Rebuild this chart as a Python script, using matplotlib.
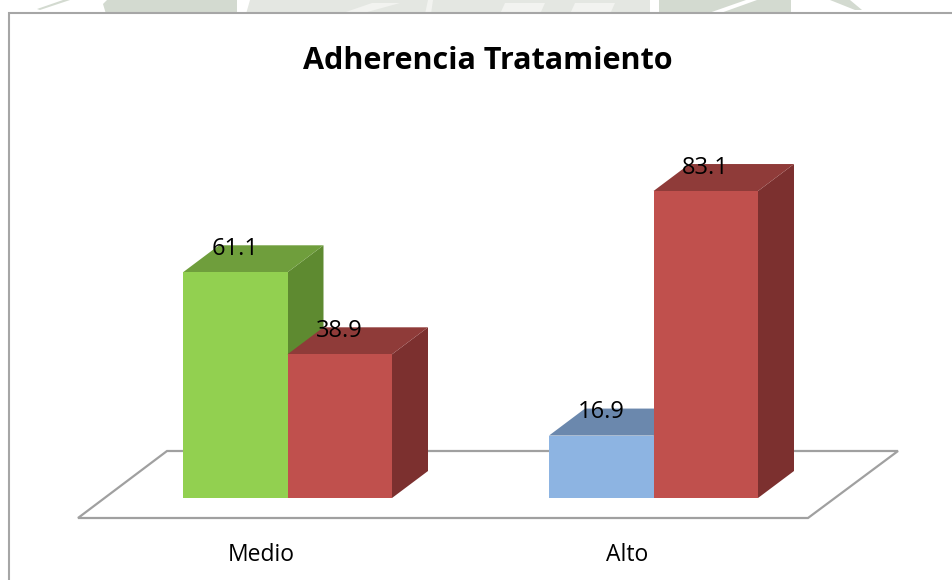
import matplotlib

matplotlib.use('Agg')
import matplotlib.pyplot as plt
from matplotlib.patches import Polygon

WIDTH, HEIGHT = 953, 580

title = 'Adherencia Tratamiento'
categories = ['Medio', 'Alto']
first_values = [61.1, 16.9]
second_values = [38.9, 83.1]
first_fronts = ['#92d050', '#8db4e2']
first_tops = ['#6f9e3c', '#6b88ad']
first_sides = ['#5e8a30', '#5f7a9c']
second_front = '#c0504d'
second_top = '#8f3b39'
second_side = '#7c302f'

# pixel scales
group_step = 366.0
first_group_px = 287.5
base_px = 498.0
unit_px = 3.694
bar_w = 104.5 / group_step
depth_x = 36.0 / group_step
depth_y = 27.0 / unit_px


def px_x(px):
    return (px - first_group_px) / group_step


def px_y(px):
    return (base_px - px) / unit_px


def px_poly(pts, **kwargs):
    return Polygon([(px_x(x), px_y(y)) for x, y in pts], **kwargs)


def draw_bar(ax, left, value, front, top, side, z):
    right = left + bar_w
    ax.add_patch(Polygon([(right, 0), (right + depth_x, depth_y), (right + depth_x, value + depth_y), (right, value)],
                         facecolor=side, edgecolor='none', zorder=z))
    ax.add_patch(Polygon([(left, value), (right, value), (right + depth_x, value + depth_y), (left + depth_x, value + depth_y)],
                         facecolor=top, edgecolor='none', zorder=z))
    ax.bar(left, value, bar_w, align='edge', color=front, zorder=z + 0.5)


fig = plt.figure(figsize=(WIDTH / 100, HEIGHT / 100), dpi=100)
ax = fig.add_axes([0, 0, 1, 1])
ax.set_xlim(px_x(0), px_x(WIDTH))
ax.set_ylim(px_y(HEIGHT), px_y(0))
ax.axis('off')

# faded watermark showing above the chart frame
wm_dark = [[(37, 9), (63, 0), (70, 0), (40, 10)],
           [(106, 14), (103, 4), (107, 0), (237, 0), (237, 14)],
           [(659, 14), (659, 0), (746, 0), (706, 14)],
           [(718, 14), (757, 0), (791, 0), (791, 14)],
           [(830, 0), (850, 0), (862, 10), (855, 10)]]
wm_pale = [[(246, 14), (250, 0), (650, 0), (650, 14)]]
wm_light = [[(340, 14), (372, 3), (400, 3), (360, 14)],
            [(500, 14), (505, 3), (545, 3), (540, 14)],
            [(570, 14), (575, 3), (615, 3), (610, 14)],
            [(425, 14), (428, 0), (433, 0), (431, 14)]]
for pts in wm_dark:
    ax.add_patch(px_poly(pts, facecolor='#d3dad0', edgecolor='none', zorder=1))
for pts in wm_pale:
    ax.add_patch(px_poly(pts, facecolor='#e4e7e2', edgecolor='none', zorder=1))
for pts in wm_light:
    ax.add_patch(px_poly(pts, facecolor='#f2f3f0', edgecolor='none', zorder=1.5))

# chart frame
ax.add_patch(px_poly([(9, 590), (9, 13), (965, 13), (965, 590)],
                     facecolor='white', edgecolor='#a6a6a6', linewidth=1.5, zorder=2))

# floor
floor_px = [(78, 518), (167, 451), (898, 451), (808, 518)]
ax.add_patch(px_poly(floor_px, closed=True, facecolor='white', edgecolor='#a0a0a0', linewidth=1.6, zorder=3))

for i, cat in enumerate(categories):
    draw_bar(ax, i - bar_w, first_values[i], first_fronts[i], first_tops[i], first_sides[i], 4)
    draw_bar(ax, i, second_values[i], second_front, second_top, second_side, 6)
    ax.text(i - bar_w / 2, first_values[i] + depth_y * 0.86, '%.1f' % first_values[i], ha='center', va='center',
            fontsize=17, family='Open Sans', color='black', zorder=10)
    ax.text(i + bar_w / 2, second_values[i] + depth_y * 0.86, '%.1f' % second_values[i], ha='center', va='center',
            fontsize=17, family='Open Sans', color='black', zorder=10)
    ax.text(px_x(261) + i, px_y(555), cat, ha='center', va='center',
            fontsize=16.5, family='Open Sans', color='black', zorder=10)

ax.text(px_x(488), px_y(61), title, ha='center', va='center', fontsize=22, fontweight='bold',
        family='Open Sans', color='black', zorder=10)

fig.savefig('out.png', dpi=100)
